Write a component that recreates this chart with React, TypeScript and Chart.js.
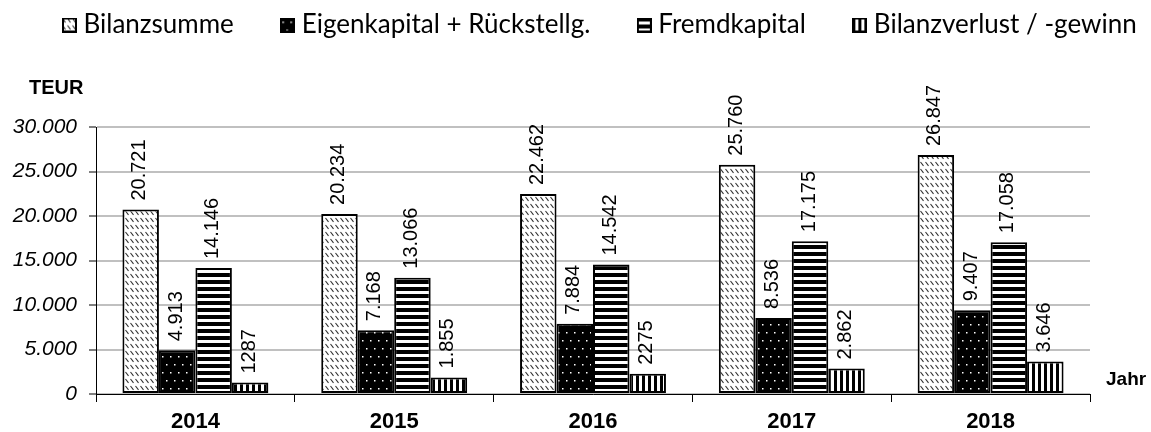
import React, { useEffect, useRef } from "react";
import { Chart, registerables } from "chart.js";

Chart.register(...registerables);

const years = ["2014", "2015", "2016", "2017", "2018"];
const seriesNames = ["Bilanzsumme", "Eigenkapital + Rückstellg.", "Fremdkapital", "Bilanzverlust / -gewinn"];
const bilanzsumme = [20721, 20234, 22462, 25760, 26847];
const eigenkapital = [4913, 7168, 7884, 8536, 9407];
const fremdkapital = [14146, 13066, 14542, 17175, 17058];
const bilanzverlust = [1287, 1855, 2275, 2862, 3646];
const bilanzsummeLabels = ["20.721", "20.234", "22.462", "25.760", "26.847"];
const eigenkapitalLabels = ["4.913", "7.168", "7.884", "8.536", "9.407"];
const fremdkapitalLabels = ["14.146", "13.066", "14.542", "17.175", "17.058"];
const bilanzverlustLabels = ["1287", "1.855", "2275", "2.862", "3.646"];
const yTicks = [0, 5000, 10000, 15000, 20000, 25000, 30000];
const yTickLabels = ["0", "5.000", "10.000", "15.000", "20.000", "25.000", "30.000"];

function makeTile(w: number, h: number, draw: (c: CanvasRenderingContext2D) => void) {
  const cv = document.createElement("canvas");
  cv.width = w;
  cv.height = h;
  const c = cv.getContext("2d")!;
  draw(c);
  return c.createPattern(cv, "repeat")!;
}

function makePatterns() {
  const diag = makeTile(5, 7, (c) => {
    c.fillStyle = "#fff";
    c.fillRect(0, 0, 5, 7);
    c.strokeStyle = "#333";
    c.lineWidth = 1.1;
    c.beginPath();
    c.moveTo(0.5, 1);
    c.lineTo(3.5, 4.8);
    c.stroke();
  });
  const dots = makeTile(8, 16, (c) => {
    c.fillStyle = "#000";
    c.fillRect(0, 0, 8, 16);
    c.fillStyle = "#fff";
    c.fillRect(2, 4, 1.5, 1.5);
    c.fillRect(6, 12, 1.5, 1.5);
  });
  const hstripes = makeTile(8, 7, (c) => {
    c.fillStyle = "#fff";
    c.fillRect(0, 0, 8, 7);
    c.fillStyle = "#000";
    c.fillRect(0, 0, 8, 4);
  });
  const vstripes = makeTile(6, 8, (c) => {
    c.fillStyle = "#fff";
    c.fillRect(0, 0, 6, 8);
    c.fillStyle = "#000";
    c.fillRect(0, 0, 3, 8);
  });
  return [diag, dots, hstripes, vstripes];
}

function makeLegendIcon(pattern: CanvasPattern) {
  const cv = document.createElement("canvas");
  cv.width = 15;
  cv.height = 15;
  const c = cv.getContext("2d")!;
  c.fillStyle = pattern;
  c.fillRect(0, 0, 15, 15);
  c.strokeStyle = "#000";
  c.lineWidth = 2;
  c.strokeRect(1, 1, 13, 13);
  return cv;
}

const LEGEND_PAD = 53;
const LEGEND_FONT = 26;

export default function App() {
  const ref = useRef<HTMLCanvasElement | null>(null);
  useEffect(() => {
    document.body.style.margin = "0";
    const canvas = ref.current!;
    const ctx = canvas.getContext("2d")!;
    const patterns = makePatterns();
    const icons = patterns.map(makeLegendIcon);
    const allLabels = [bilanzsummeLabels, eigenkapitalLabels, fremdkapitalLabels, bilanzverlustLabels];
    const allData = [bilanzsumme, eigenkapital, fremdkapital, bilanzverlust];

    const legendFit = {
      id: "legendFit",
      beforeInit(chart: any) {
        const lg = chart.legend;
        const orig = lg.fit;
        lg.fit = function () {
          this.maxWidth = 3000;
          orig.call(this);
          this.height = 127;
        };
      },
      afterLayout(chart: any) {
        const lg = chart.legend;
        lg.left = 68.5 - LEGEND_PAD;
        lg.right = 3000;
        lg.top = 25 - LEGEND_FONT / 2 - LEGEND_PAD;
      },
    };

    const valueLabels = {
      id: "valueLabels",
      afterDatasetsDraw(chart: any) {
        const c = chart.ctx;
        c.save();
        c.font = "20px 'Liberation Sans', Arial, sans-serif";
        c.fillStyle = "#000";
        c.textAlign = "left";
        c.textBaseline = "middle";
        chart.data.datasets.forEach((ds: any, di: number) => {
          const meta = chart.getDatasetMeta(di);
          meta.data.forEach((el: any, i: number) => {
            c.save();
            c.translate(el.x - 1, el.y - 9);
            c.rotate(-Math.PI / 2);
            c.fillText(allLabels[di][i], 0, 0);
            c.restore();
          });
        });
        c.restore();
      },
    };

    const axisTitles = {
      id: "axisTitles",
      afterDraw(chart: any) {
        const c = chart.ctx;
        const a = chart.chartArea;
        c.save();
        c.font = "bold 20px 'Liberation Sans', Arial, sans-serif";
        c.fillStyle = "#000";
        c.textBaseline = "middle";
        c.textAlign = "left";
        c.fillText("TEUR", 29, 88);
        c.font = "bold 19px 'Liberation Sans', Arial, sans-serif";
        c.fillText("Jahr", a.right + 16, a.bottom - 14);
        c.restore();
      },
    };

    const chart = new Chart(ctx, {
      type: "bar",
      data: {
        labels: years,
        datasets: seriesNames.map((name, i) => ({
          label: name,
          data: allData[i],
          backgroundColor: patterns[i],
          borderColor: "#000",
          borderWidth: 2,
          borderSkipped: false,
          categoryPercentage: 0.734,
          barPercentage: 1,
        })),
      },
      options: {
        animation: false,
        responsive: false,
        devicePixelRatio: 1,
        layout: { padding: { top: 0, right: 61, left: 0, bottom: 0 } },
        plugins: {
          tooltip: { enabled: false },
          legend: {
            display: true,
            position: "top",
            align: "start",
            labels: {
              usePointStyle: true,
              pointStyleWidth: 2,
              boxHeight: 15,
              padding: LEGEND_PAD,
              color: "#000",
              font: { family: "Lato, 'Open Sans', sans-serif", size: LEGEND_FONT },
              generateLabels(chart: any) {
                const items = Chart.defaults.plugins.legend.labels.generateLabels(chart);
                return items.map((it: any, i: number) => ({ ...it, pointStyle: icons[i] }));
              },
            },
          },
        },
        scales: {
          x: {
            afterFit(scale: any) {
              scale.height = 38;
            },
            border: { display: true, color: "#000", width: 1 },
            grid: {
              display: true,
              offset: true,
              drawOnChartArea: false,
              drawTicks: true,
              tickLength: 8,
              tickColor: "#000",
            },
            ticks: {
              color: "#000",
              padding: 7,
              font: { family: "'Liberation Sans', Arial, sans-serif", size: 22, weight: "bold" },
            },
          },
          y: {
            min: 0,
            max: 30000,
            afterFit(scale: any) {
              scale.width = 96;
            },
            afterBuildTicks(scale: any) {
              scale.ticks = yTicks.map((v) => ({ value: v }));
            },
            border: { display: true, color: "#000", width: 1 },
            grid: {
              color: "#c0c0c0",
              lineWidth: 2,
              drawTicks: true,
              tickLength: 7,
              tickColor: "#000",
              tickWidth: 1,
            },
            ticks: {
              color: "#000",
              padding: 12,
              callback: (v: any) => yTickLabels[yTicks.indexOf(Number(v))],
              font: { family: "'Liberation Sans', Arial, sans-serif", size: 21, style: "italic" },
            },
          },
        },
      },
      plugins: [legendFit, valueLabels, axisTitles],
    } as any);
    return () => chart.destroy();
  }, []);
  return (
    <div style={{ width: 1151, height: 432, position: "relative", background: "#fff" }}>
      <canvas ref={ref} width={1151} height={432} />
    </div>
  );
}
